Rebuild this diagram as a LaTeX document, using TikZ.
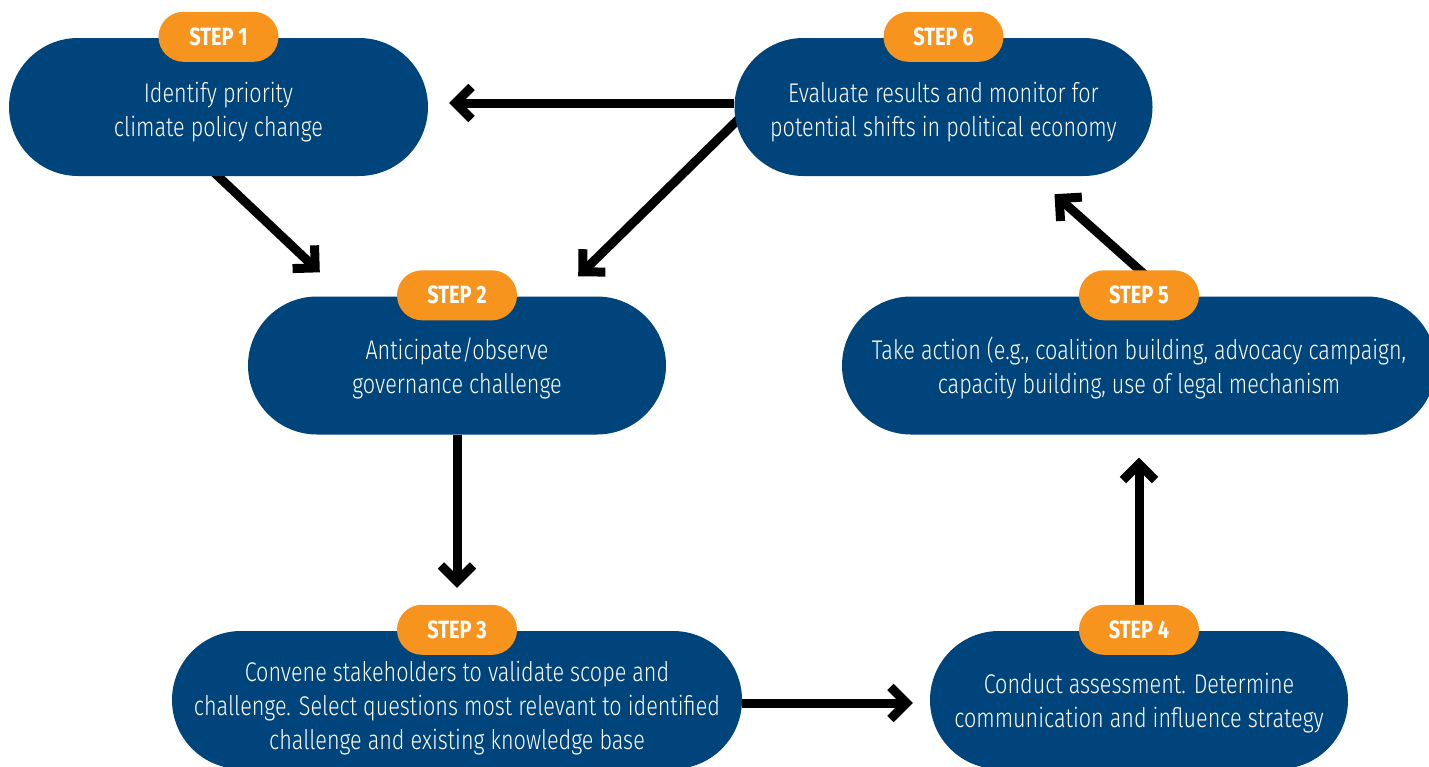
\documentclass[tikz,border=0pt]{standalone}
\usepackage{fontspec}
\setmainfont{Fira Sans}[FakeStretch=0.8, UprightFont=* Light]
\newfontfamily\labelfont{Fira Sans}[FakeStretch=0.8]
\usetikzlibrary{arrows.meta}
\pgfdeclarelayer{bg}
\pgfsetlayers{bg,main}
\definecolor{navy}{HTML}{00447C}
\definecolor{amber}{HTML}{F7941D}
\tikzset{
 stepbox/.style={fill=navy, rounded corners=69pt, minimum height=138pt, inner sep=0pt},
 steptext/.style={text=white, align=center, font=\fontsize{27}{34}\selectfont, inner sep=0pt},
 steplabel/.style={fill=amber, rounded corners=25pt, minimum width=120pt, minimum height=50pt, text=white, font=\labelfont\bfseries\fontsize{25}{25}\selectfont, inner sep=0pt},
 arr/.style={line width=9pt, line join=miter, -{Straight Barb[length=16pt,width=32pt]}}
}
\begin{document}
\begin{tikzpicture}[x=1pt,y=-1pt]
\useasboundingbox (0,0) rectangle (1429,766);
\node[stepbox, minimum width=419pt] (s1) at (218.5,107) {};
\node[stepbox, minimum width=418pt] (s6) at (943.5,107) {};
\node[stepbox, minimum width=418pt] (s2) at (457,365.5) {};
\node[stepbox, minimum width=594pt] (s5) at (1139,365.5) {};
\node[stepbox, minimum width=570pt] (s3) at (457,700) {};
\node[stepbox, minimum width=418pt] (s4) at (1139,700) {};
\node[steptext] (t1) at ([yshift=-5pt]s1.center) {Identify priority\\climate policy change};
\node[steptext] (t6) at ([yshift=-5pt]s6.center) {Evaluate results and monitor for\\potential shifts in political economy};
\node[steptext] (t2) at ([yshift=-3pt]s2.center) {Anticipate/observe\\governance challenge};
\node[steptext] (t5) at ([yshift=-2pt]s5.center) {Take action (e.g., coalition building, advocacy campaign,\\capacity building, use of legal mechanism};
\node[steptext] (t3) at ([yshift=-8pt]s3.center) {Convene stakeholders to validate scope and\\challenge. Select questions most relevant to identified\\challenge and existing knowledge base};
\node[steptext] (t4) at ([yshift=-3pt]s4.center) {Conduct assessment. Determine\\communication and influence strategy};
\node[steplabel] (l1) at ([yshift=1pt]s1.north) {STEP 1};
\node[steplabel] (l6) at ([yshift=1pt]s6.north) {STEP 6};
\node[steplabel] (l2) at ([yshift=1pt]s2.north) {STEP 2};
\node[steplabel] (l5) at ([yshift=1pt]s5.north) {STEP 5};
\node[steplabel] (l3) at ([yshift=1pt]s3.north) {STEP 3};
\node[steplabel] (l4) at ([yshift=1pt]s4.north) {STEP 4};
\begin{pgfonlayer}{bg}
\draw[arr] ([yshift=4pt]s6.west) -- ([xshift=21pt,yshift=4pt]s1.east);
\draw[arr] ([xshift=35pt,yshift=18pt]s6.west) -- ([xshift=-88pt,yshift=20pt]s2.north east);
\draw[arr] ([xshift=-11pt,yshift=10pt]s1.south) -- ([xshift=72pt,yshift=24pt]s2.north west);
\draw[arr] (s2.south) -- ([yshift=43pt]s3.north);
\draw[arr] ([yshift=-3pt]s3.east) -- ([xshift=-17pt,yshift=-3pt]s4.west);
\draw[arr] (s4.north) -- ([yshift=-23pt]s5.south);
\draw[arr] ([xshift=21pt,yshift=8pt]s5.north) -- ([xshift=111pt,yshift=-18pt]s6.south);
\end{pgfonlayer}
\end{tikzpicture}
\end{document}
